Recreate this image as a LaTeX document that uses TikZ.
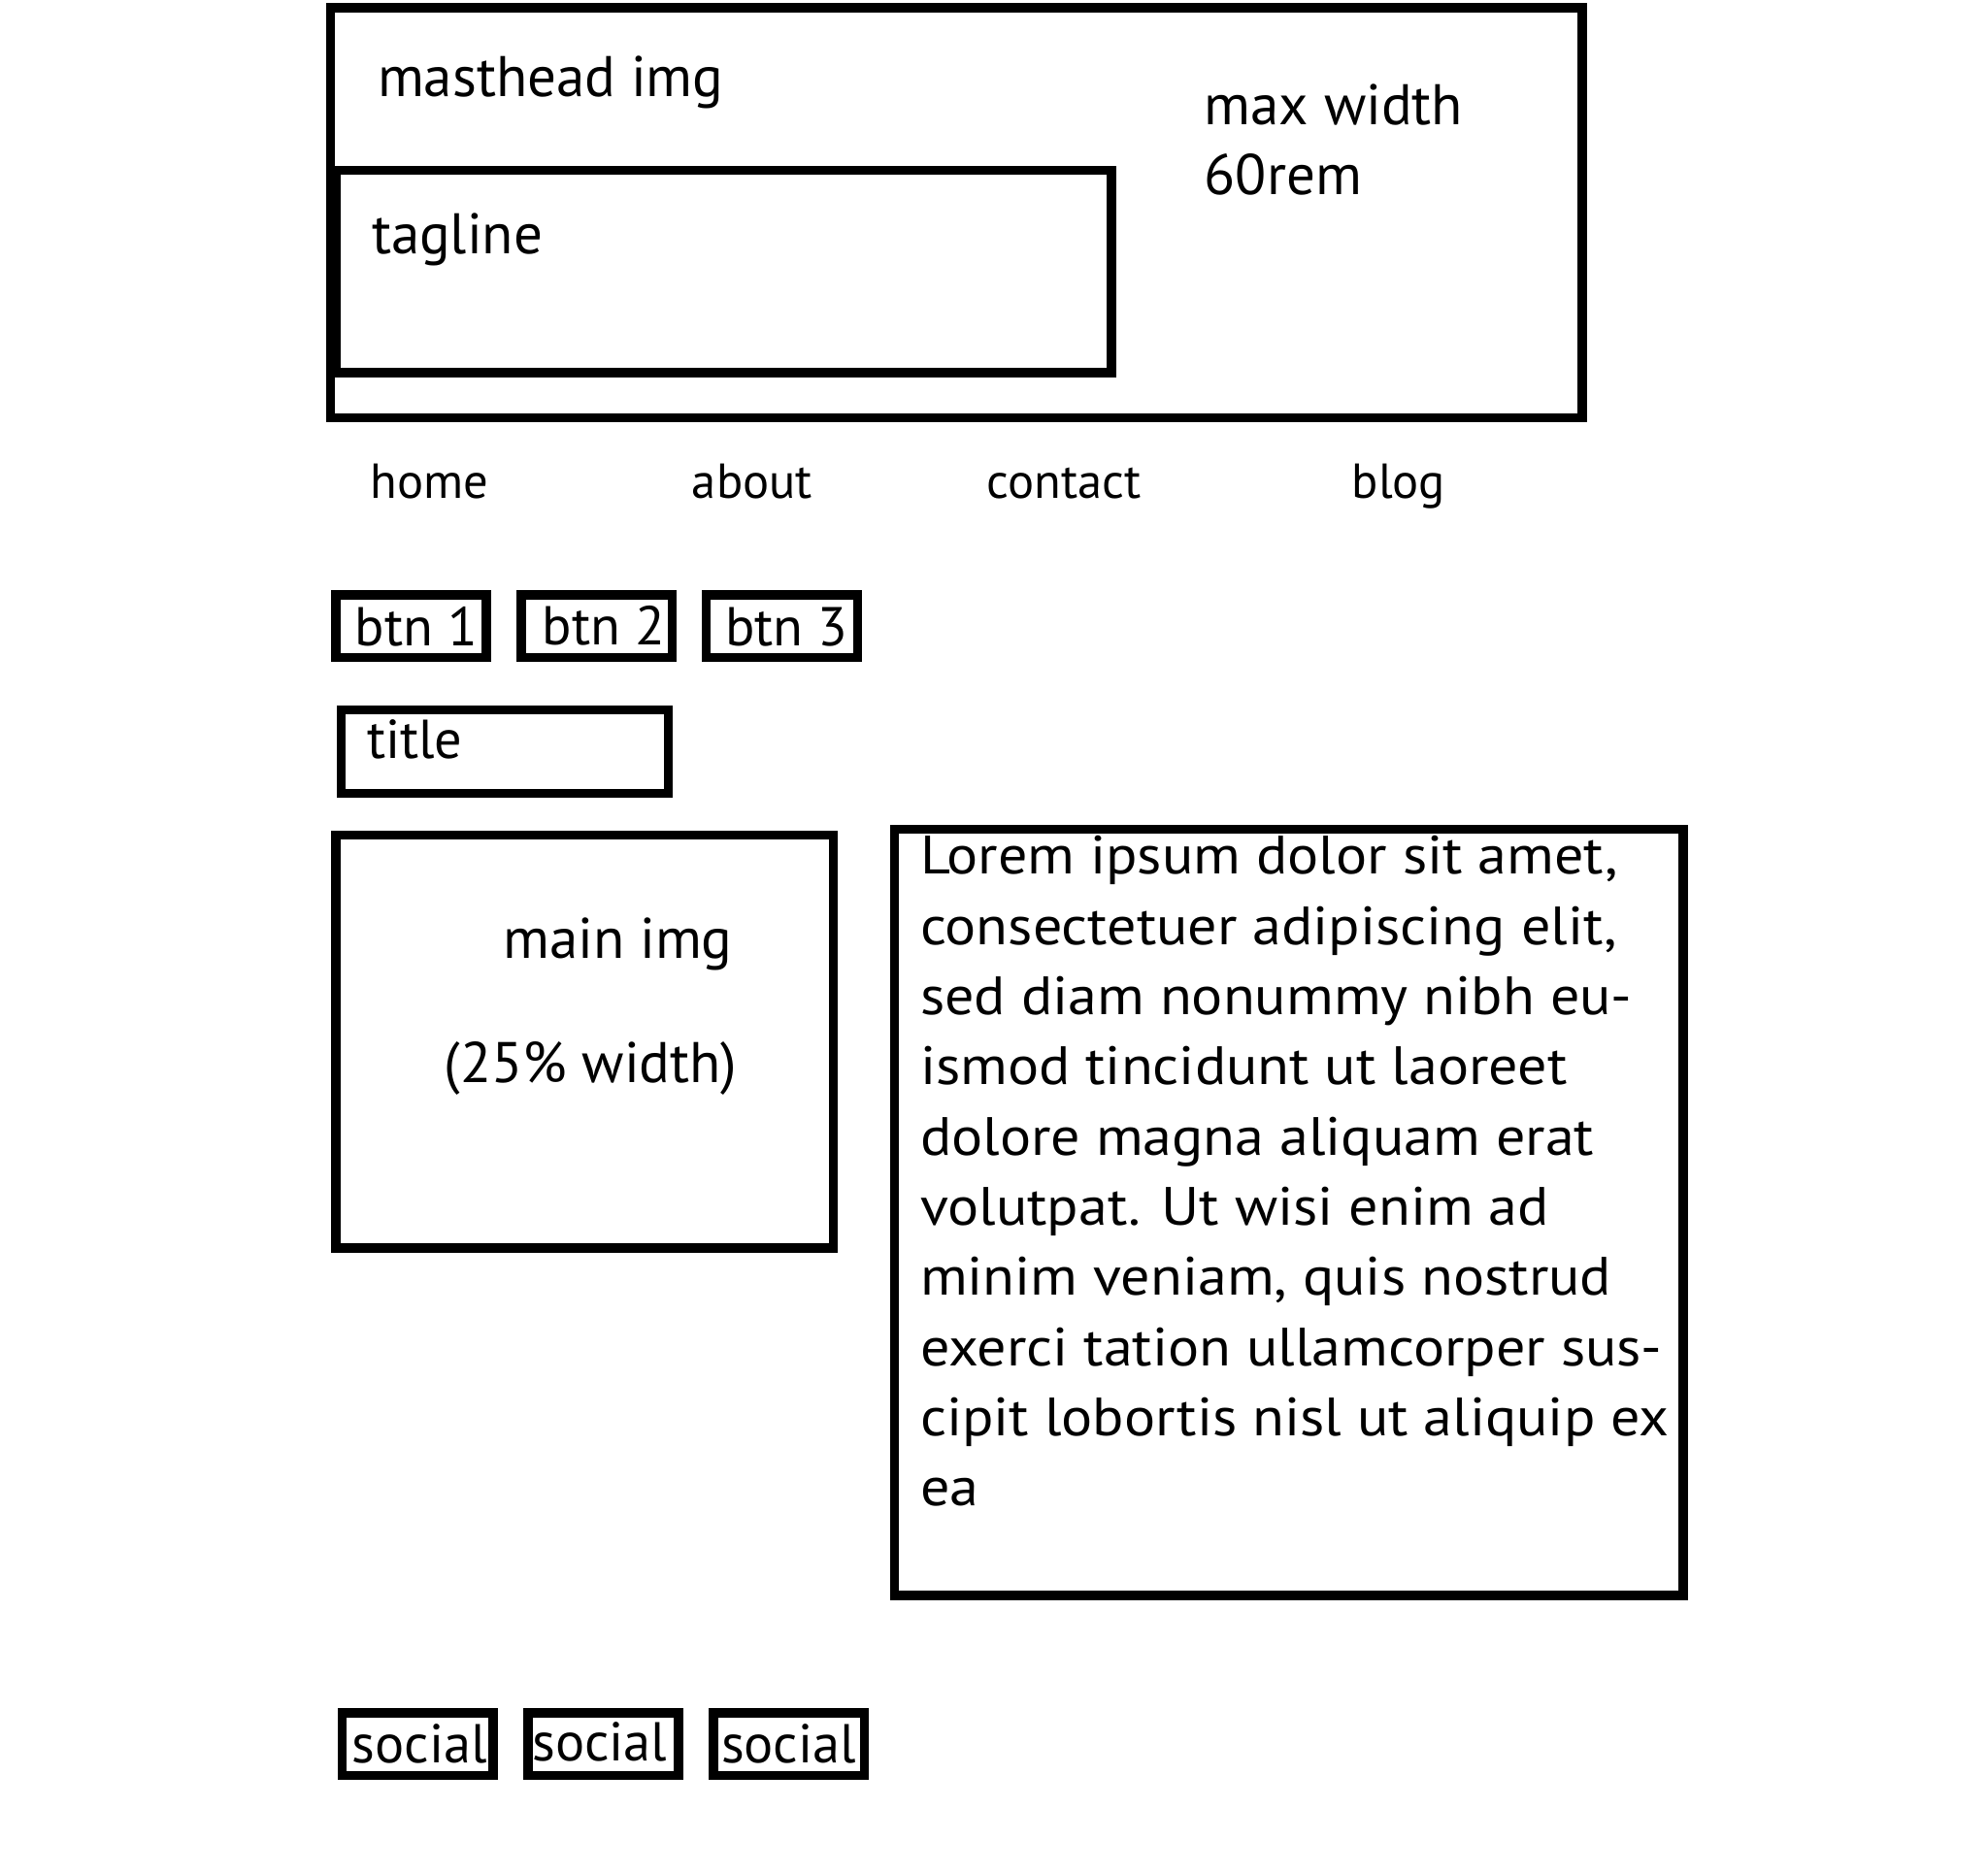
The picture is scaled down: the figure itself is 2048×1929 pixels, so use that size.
\documentclass[tikz,border=0pt]{standalone}
\usepackage{fontspec}
\setmainfont{PT Sans}
\newfontfamily\loremfont[FakeStretch=1.08]{PT Sans}
\begin{document}
\begin{tikzpicture}[x=0.5pt,y=-0.5pt,
  box/.style={draw=black,line width=4.8pt},
  lbl/.style={anchor=base west,inner sep=0pt,outer sep=0pt},
  fbig/.style={font=\fontsize{29.5}{35}\selectfont},
  fnav/.style={font=\fontsize{25.3}{30}\selectfont},
  fbtn/.style={font=\fontsize{28.2}{34}\selectfont},
  ftxt/.style={font=\loremfont\fontsize{27.8}{33}\selectfont}]
\fill[white] (0,0) rectangle (2048,1929);
\useasboundingbox (0,0) rectangle (2048,1929);
% boxes
\draw[box] (340.5,7.7) rectangle (1630,430.5);
\draw[box] (346.5,175.5) rectangle (1145,384);
\draw[box] (346,613) rectangle (501.2,677.5);
\draw[box] (537,613) rectangle (692.3,677.5);
\draw[box] (727.4,613) rectangle (883.4,677.5);
\draw[box] (351.6,731.6) rectangle (688.4,817.3);
\draw[box] (346,860.6) rectangle (858.4,1286);
\draw[box] (921.6,854.3) rectangle (1734,1644);
\draw[box] (352.5,1765.2) rectangle (508.2,1829.5);
\draw[box] (543.8,1765.2) rectangle (699.2,1829.5);
\draw[box] (735,1765.2) rectangle (890.5,1829.5);
% labels
\node[lbl,fbig] (masthead) at (389,99.3) {masthead img};
\node[lbl,fbig] (maxw) at (1240.7,128.3) {max width};
\node[lbl,fbig] (rem) at (1240.7,200) {60rem};
\node[lbl,fbig] (tagline) at (383,261) {tagline};
\node[lbl,fnav] (home) at (381.8,513.6) {home};
\node[lbl,fnav] (about) at (712.9,513.6) {about};
\node[lbl,fnav] (contact) at (1016.8,513.6) {contact};
\node[lbl,fnav] (blog) at (1392.7,513.6) {blog};
\node[lbl,fbtn] (btn1) at (365.7,665.7) {btn 1};
\node[lbl,fbtn] (btn2) at (558.6,664) {btn 2};
\node[lbl,fbtn] (btn3) at (747,665.7) {btn 3};
\node[lbl,fbtn] (title) at (378,781.4) {title};
\node[lbl,fbig] (mainimg) at (518.2,987.5) {main img};
\node[lbl,fbig] (width) at (457.5,1115) {(25\% width)};
\foreach \t [count=\i] in {Lorem ipsum dolor sit amet{,},consectetuer adipiscing elit{,},sed diam nonummy nibh eu-,ismod tincidunt ut laoreet,dolore magna aliquam erat,volutpat. Ut wisi enim ad,{minim veniam, quis nostrud},exerci tation ullamcorper sus-,cipit lobortis nisl ut aliquip ex,ea}
  \node[lbl,ftxt] (lorem\i) at (948,{900.9+72.3*(\i-1)}) {\t};
\node[lbl,fbtn] (social1) at (362.7,1816) {social};
\node[lbl,fbtn] (social2) at (548.3,1814.3) {social};
\node[lbl,fbtn] (social3) at (743,1816) {social};
\end{tikzpicture}
\end{document}
